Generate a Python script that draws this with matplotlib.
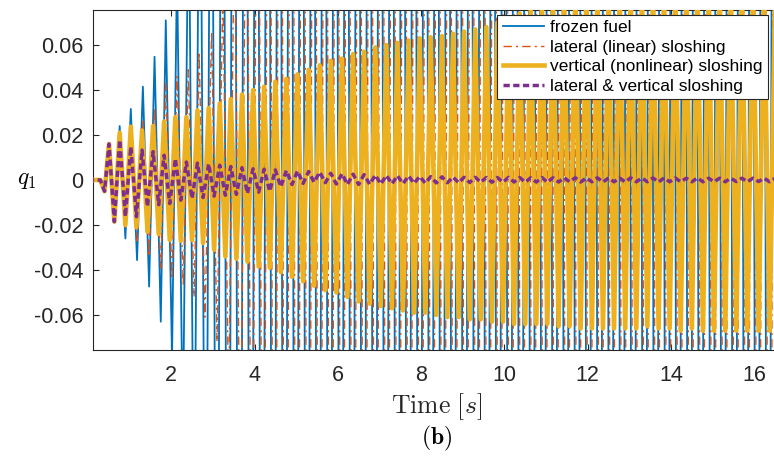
import numpy as np
import matplotlib
matplotlib.use("Agg")
import matplotlib.pyplot as plt

plt.rcParams["font.family"] = ["Liberation Sans", "DejaVu Sans"]
plt.rcParams["mathtext.fontset"] = "cm"
plt.rcParams["axes.unicode_minus"] = False

# -----------------------
# DATA (extrema of q1; clipped ones estimated)
# -----------------------
# frozen fuel
blue_t = [0.0, 0.30, 0.40, 0.507, 0.635, 0.763, 0.90, 1.03, 1.18, 1.32, 1.47, 1.60, 1.75, 1.87,
          2.02, 2.14, 2.28, 2.42, 2.55, 2.69, 2.83, 2.96, 3.10, 3.23, 3.37, 3.50, 3.64,
          3.78, 3.91, 4.05, 4.18, 4.32, 4.45, 4.59, 4.72, 4.86, 4.99,
          5.13, 5.26, 5.40, 5.53, 5.67, 5.80, 5.94, 6.07, 6.21, 6.34,
          6.48, 6.61, 6.75, 6.88, 7.02, 7.15, 7.29, 7.42, 7.56, 7.69,
          7.83, 7.96, 8.10, 8.23, 8.37, 8.50, 8.64, 8.77, 8.91, 9.04,
          9.18, 9.31, 9.45, 9.58, 9.72, 9.85, 9.99, 10.12, 10.26, 10.39,
          10.53, 10.66, 10.80, 10.93, 11.07, 11.20, 11.34, 11.47, 11.61, 11.74,
          11.88, 12.01, 12.15, 12.28, 12.42, 12.55, 12.69, 12.82, 12.96, 13.09,
          13.23, 13.36, 13.50, 13.63, 13.77, 13.90, 14.04, 14.17, 14.31, 14.44,
          14.58, 14.71, 14.85, 14.98, 15.12, 15.25, 15.39, 15.52, 15.66, 15.79,
          15.93, 16.06, 16.20, 16.33, 16.47, 16.60]
blue_q = [0, 0, -0.005, 0.016, -0.0185, 0.024, -0.026, 0.0316, -0.0356, 0.0415, -0.0474, 0.0548,
          -0.063, 0.071, -0.079, 0.095, -0.115, 0.14, -0.17, 0.20, -0.24, 0.28, -0.32, 0.36,
          -0.40, 0.45, -0.50,
          0.5, -0.5, 0.5, -0.5, 0.5, -0.5, 0.5, -0.5, 0.5, -0.5,
          0.5, -0.5, 0.5, -0.5, 0.5, -0.5, 0.5, -0.5, 0.5, -0.5,
          0.5, -0.5, 0.5, -0.5, 0.5, -0.5, 0.5, -0.5, 0.5, -0.5,
          0.5, -0.5, 0.5, -0.5, 0.5, -0.5, 0.5, -0.5, 0.5, -0.5,
          0.5, -0.5, 0.5, -0.5, 0.5, -0.5, 0.5, -0.5, 0.5, -0.5,
          0.5, -0.5, 0.5, -0.5, 0.5, -0.5, 0.5, -0.5, 0.5, -0.5,
          0.5, -0.5, 0.5, -0.5, 0.5, -0.5, 0.5, -0.5, 0.5, -0.5,
          0.5, -0.5, 0.5, -0.5, 0.5, -0.5, 0.5, -0.5, 0.5, -0.5,
          0.5, -0.5, 0.5, -0.5, 0.5, -0.5, 0.5, -0.5, 0.5, -0.5,
          0.5, -0.5, 0.5, -0.5, 0.5, -0.5]

# lateral (linear) sloshing
orange_t = [0.0, 0.30, 0.40, 0.507, 0.635, 0.763, 0.90, 1.03, 1.18, 1.32, 1.47, 1.60, 1.75, 1.87,
            2.02, 2.14, 2.29, 2.41, 2.55, 2.67, 2.81, 2.97, 3.10, 3.24, 3.38, 3.52, 3.66,
            3.81, 3.94, 4.08, 4.21, 4.35, 4.48, 4.62, 4.75, 4.89, 5.02,
            5.16, 5.29, 5.43, 5.56, 5.70, 5.83, 5.97, 6.10, 6.24, 6.37,
            6.51, 6.64, 6.78, 6.91, 7.05, 7.18, 7.32, 7.45, 7.59, 7.72,
            7.86, 7.99, 8.13, 8.26, 8.40, 8.53, 8.67, 8.80, 8.94, 9.07,
            9.21, 9.34, 9.48, 9.61, 9.75, 9.88, 10.02, 10.15, 10.29, 10.42,
            10.56, 10.69, 10.83, 10.96, 11.10, 11.23, 11.37, 11.50, 11.64, 11.77,
            11.91, 12.04, 12.18, 12.31, 12.45, 12.58, 12.72, 12.85, 12.99, 13.12,
            13.26, 13.39, 13.53, 13.66, 13.80, 13.93, 14.07, 14.20, 14.34, 14.47,
            14.61, 14.74, 14.88, 15.01, 15.15, 15.28, 15.42, 15.55, 15.69, 15.82,
            15.96, 16.09, 16.23, 16.36, 16.50, 16.63]
orange_q = [0, 0, -0.005, 0.016, -0.0185, 0.0195, -0.022, 0.0237, -0.027, 0.027, -0.034, 0.032,
            -0.040, 0.043, -0.044, 0.046, -0.047, 0.049, -0.052, 0.057, -0.061, 0.066, -0.072,
            0.085, -0.10, 0.12, -0.15,
            0.18, -0.22, 0.26, -0.30, 0.35, -0.40, 0.45, -0.50, 0.5, -0.5,
            0.5, -0.5, 0.5, -0.5, 0.5, -0.5, 0.5, -0.5, 0.5, -0.5,
            0.5, -0.5, 0.5, -0.5, 0.5, -0.5, 0.5, -0.5, 0.5, -0.5,
            0.5, -0.5, 0.5, -0.5, 0.5, -0.5, 0.5, -0.5, 0.5, -0.5,
            0.5, -0.5, 0.5, -0.5, 0.5, -0.5, 0.5, -0.5, 0.5, -0.5,
            0.5, -0.5, 0.5, -0.5, 0.5, -0.5, 0.5, -0.5, 0.5, -0.5,
            0.5, -0.5, 0.5, -0.5, 0.5, -0.5, 0.5, -0.5, 0.5, -0.5,
            0.5, -0.5, 0.5, -0.5, 0.5, -0.5, 0.5, -0.5, 0.5, -0.5,
            0.5, -0.5, 0.5, -0.5, 0.5, -0.5, 0.5, -0.5, 0.5, -0.5,
            0.5, -0.5, 0.5, -0.5, 0.5, -0.5]

# vertical (nonlinear) and combined sloshing share the same extrema times
vp_t = [0.0, 0.30, 0.40, 0.507, 0.635, 0.763, 0.90, 1.03, 1.165, 1.30, 1.43, 1.565, 1.70, 1.83,
        1.965, 2.10, 2.23, 2.365, 2.50, 2.63, 2.765, 2.90, 3.03, 3.165, 3.30, 3.43, 3.565,
        3.70, 3.83, 3.965, 4.10, 4.23, 4.365, 4.50,
        4.63, 4.765, 4.90, 5.03, 5.165, 5.30, 5.43, 5.565, 5.70, 5.83,
        5.965, 6.10, 6.23, 6.365, 6.50, 6.63, 6.765, 6.90, 7.03, 7.165,
        7.30, 7.43, 7.565, 7.70, 7.83, 7.965, 8.10, 8.23, 8.365, 8.50,
        8.63, 8.765, 8.90, 9.03, 9.165, 9.30, 9.43, 9.565, 9.70, 9.83,
        9.965, 10.10, 10.23, 10.365, 10.50, 10.63, 10.765, 10.90, 11.03, 11.165,
        11.30, 11.43, 11.565, 11.70, 11.83, 11.965, 12.10, 12.23, 12.365, 12.50,
        12.63, 12.765, 12.90, 13.03, 13.165, 13.30, 13.43, 13.565, 13.70, 13.83,
        13.965, 14.10, 14.23, 14.365, 14.50, 14.63, 14.765, 14.90, 15.03, 15.165,
        15.30, 15.43, 15.565, 15.70, 15.83, 15.965, 16.10, 16.23, 16.365, 16.50,
        16.63]
yellow_q = [0, 0, -0.005, 0.016, -0.0185, 0.021, -0.020, 0.0237, -0.021, 0.022, -0.023, 0.024,
            -0.024, 0.026, -0.0267, 0.028, -0.027, 0.028, -0.0267, 0.031, -0.028, 0.032, -0.031,
            0.034, -0.034, 0.036, -0.035, 0.038, -0.0363, 0.040, -0.0385, 0.0415, -0.039, 0.0437,
            -0.041, 0.045, -0.043, 0.047, -0.045, 0.049, -0.047, 0.051, -0.049, 0.053,
            -0.050, 0.054, -0.052, 0.056, -0.054, 0.057, -0.055, 0.059, -0.056, 0.060,
            -0.057, 0.061, -0.058, 0.062, -0.059, 0.063, -0.059, 0.0635, -0.060, 0.064,
            -0.061, 0.065, -0.061, 0.066, -0.062, 0.067, -0.062, 0.068, -0.063, 0.070,
            -0.063, 0.072, -0.064, 0.074, -0.064, 0.076, -0.064, 0.078, -0.064, 0.080,
            -0.065, 0.081, -0.065, 0.082, -0.066, 0.082, -0.066, 0.083, -0.066, 0.083,
            -0.066, 0.084, -0.066, 0.084, -0.066, 0.084, -0.065, 0.085, -0.066, 0.085,
            -0.066, 0.085, -0.067, 0.085, -0.066, 0.086, -0.067, 0.086, -0.067, 0.086,
            -0.067, 0.086, -0.067, 0.086, -0.067, 0.087, -0.067, 0.087, -0.067, 0.087,
            -0.067]
purple_q = [0, 0, -0.005, 0.016, -0.0185, 0.0178, -0.0163, 0.0148, -0.0163, 0.0133, -0.0119,
            0.0126, -0.011, 0.011, -0.0105, 0.0095, -0.009, 0.008, -0.0082, 0.0075, -0.0078,
            0.0072, -0.0072, 0.0066, -0.0068, 0.006, -0.0064, 0.0055, -0.006, 0.005, -0.0054,
            0.0048, -0.005, 0.0045,
            -0.003, 0.0042, -0.002, 0.004, -0.0015, 0.0038, -0.001, 0.0035, -0.0012, 0.003,
            -0.0018, 0.0028, -0.002, 0.0026, -0.002, 0.0024, -0.0019, 0.0022, -0.0018, 0.002,
            -0.0017, 0.0019, -0.0016, 0.0018, -0.0015, 0.0016, -0.0014, 0.0015, -0.0013, 0.0014,
            -0.0012, 0.0013, -0.0012, 0.0012, -0.0011, 0.0012, -0.001, 0.0011, -0.001, 0.0011,
            -0.001, 0.0012, -0.0009, 0.0011, -0.001, 0.001, -0.0009, 0.0011, -0.001, 0.001,
            -0.0009, 0.001, -0.0008, 0.001, -0.0009, 0.0009, -0.0008, 0.001, -0.0009, 0.0009,
            -0.0008, 0.0009, -0.0009, 0.001, -0.0008, 0.0009, -0.0008, 0.0009, -0.0009, 0.0009,
            -0.0008, 0.0009, -0.0008, 0.0008, -0.0008, 0.0009, -0.0008, 0.0008, -0.0008, 0.0008,
            -0.0008, 0.0008, -0.0007, 0.0008, -0.0008, 0.0008, -0.0007, 0.0008, -0.0008, 0.0008,
            -0.0007]

labels = ["frozen fuel", "lateral (linear) sloshing",
          "vertical (nonlinear) sloshing", "lateral & vertical sloshing"]
xticks = [2, 4, 6, 8, 10, 12, 14, 16]
yticks = [-0.06, -0.04, -0.02, 0, 0.02, 0.04, 0.06]
ytick_labels = ["-0.06", "-0.04", "-0.02", "0", "0.02", "0.04", "0.06"]


def pair(t, q):
    n = min(len(t), len(q))
    return np.asarray(t[:n]), np.asarray(q[:n])


# -----------------------
# PLOT
# -----------------------
W, H = 774, 459
fig = plt.figure(figsize=(W / 100, H / 100), dpi=100)
ax = fig.add_axes([93.3 / W, 1 - 350 / H, (W - 93.3) / W, 340 / H])

t, q = pair(blue_t, blue_q)
ax.plot(t, q, color="#0072BD", lw=1.3, label=labels[0], zorder=2)
t, q = pair(orange_t, orange_q)
ax.plot(t, q, color="#D95319", lw=1.0, ls=(0, (6, 3, 1.5, 3)), label=labels[1], zorder=3)
t, q = pair(vp_t, yellow_q)
ax.plot(t, q, color="#EDB120", lw=3.3, label=labels[2], zorder=4, solid_joinstyle="round")
t, q = pair(vp_t, purple_q)
ax.plot(t, q, color="#7E2F8E", lw=2.5, ls=(0, (1.8, 1.0)), label=labels[3], zorder=5)

ax.set_xlim(0.13, 16.47)
ax.set_ylim(-0.0756, 0.0756)
ax.set_xticks(xticks)
ax.set_yticks(yticks)
ax.set_yticklabels(ytick_labels)
ax.tick_params(direction="in", length=4, width=0.8, top=True, right=False,
               labelsize=15.5, colors="#262626")
ax.tick_params(axis="x", pad=11)
ax.tick_params(axis="y", pad=7)
for s in ["left", "bottom", "top"]:
    ax.spines[s].set_color("#262626")
    ax.spines[s].set_linewidth(0.8)
ax.spines["right"].set_visible(False)

leg = ax.legend(loc="upper right", bbox_to_anchor=(768 / W, 1 - 15 / H),
                bbox_transform=fig.transFigure, fontsize=12.5, frameon=True,
                fancybox=False, framealpha=1, edgecolor="#262626",
                handlelength=2.4, handletextpad=0.35, labelspacing=0.25,
                borderpad=0.3, borderaxespad=0)
leg.get_frame().set_linewidth(0.8)

fig.text(27 / W, 1 - 180 / H, r"$q_1$", fontsize=17, ha="center", va="center")
fig.text(437 / W, 1 - 407 / H, r"$\mathrm{Time}\ [s]$", fontsize=18.5,
         ha="center", va="center", color="#262626")
fig.text(437 / W, 1 - 438 / H, r"$(\mathbf{b})$", fontsize=17, ha="center", va="center")

plt.savefig("out.png", dpi=100)
